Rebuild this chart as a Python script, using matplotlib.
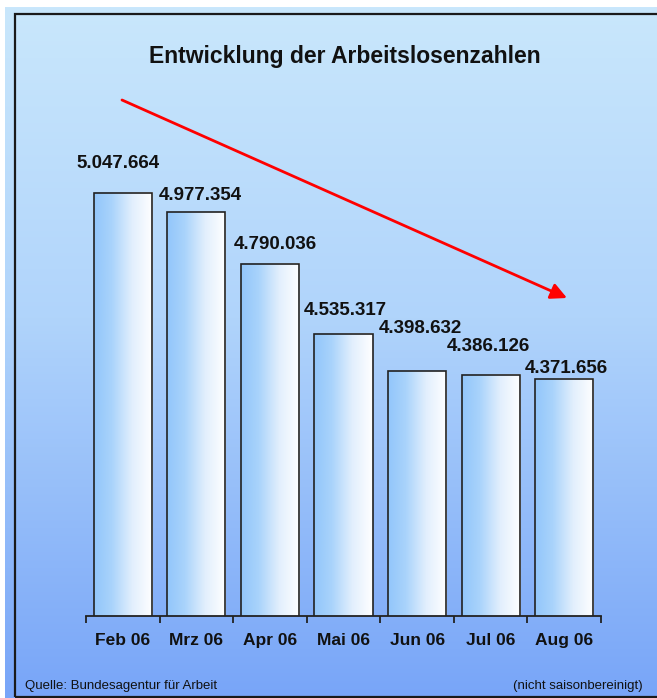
import numpy as np
import matplotlib
matplotlib.use('Agg')
import matplotlib.pyplot as plt
from matplotlib.colors import LinearSegmentedColormap
from matplotlib.patches import Rectangle

# Daten
monate = ['Feb 06', 'Mrz 06', 'Apr 06', 'Mai 06', 'Jun 06', 'Jul 06', 'Aug 06']
arbeitslose = [5047664, 4977354, 4790036, 4535317, 4398632, 4386126, 4371656]
beschriftung = ['5.047.664', '4.977.354', '4.790.036', '4.535.317',
                '4.398.632', '4.386.126', '4.371.656']

# Lage der Zahlen über den Balken (Pixel, wie im Original von Hand verschoben)
label_dx = [-5, 4, 5, 2, 3, -2, 2]
label_dy = [29, 17, 19, 23, 43, 28, 10]

plt.rcParams['font.family'] = ['Liberation Sans', 'DejaVu Sans']

W, H = 657, 698
fig = plt.figure(figsize=(W / 100, H / 100), dpi=100)

# Hintergrund mit Verlauf
bg = fig.add_axes([5 / W, 0, 1 - 5 / W, 1 - 7 / H], zorder=-10)
bg_cmap = LinearSegmentedColormap.from_list(
    'bg', [(0.0, '#c9e7fc'), (0.45, '#b0d4fb'), (1.0, '#78a5f8')])
bg.imshow(np.linspace(0, 1, 256).reshape(-1, 1), cmap=bg_cmap, aspect='auto',
          extent=(0, 1, 0, 1), origin='upper')
bg.set_axis_off()

# Rahmen
fig.patches.append(Rectangle((15 / W, 1.5 / H), 1.2, 1 - 15.5 / H, transform=fig.transFigure,
                             fill=False, edgecolor='#1a1a1a', linewidth=1.6, zorder=-5))

# Diagramm
ax = fig.add_axes([86 / W, (H - 616) / H, (601 - 86) / W, (616 - 100) / H])
ax.patch.set_visible(False)
x = np.arange(len(monate))
ymin, ymax = 3510000, 5385000
bars = ax.bar(x, arbeitslose, width=0.79, facecolor='none', edgecolor='#222222',
              linewidth=1.2, zorder=3)

bar_cmap = LinearSegmentedColormap.from_list(
    'bar', [(0.0, '#92c6fb'), (0.3, '#a9d3fb'), (0.65, '#e2effd'), (1.0, '#ffffff')])
grad = np.linspace(0, 1, 256).reshape(1, -1)
for b in bars:
    ax.imshow(grad, cmap=bar_cmap, aspect='auto', zorder=2,
              extent=(b.get_x(), b.get_x() + b.get_width(), ymin, b.get_height()))

ax.set_xlim(-0.5, len(monate) - 0.5)
ax.set_ylim(ymin, ymax)

for i, (b, txt) in enumerate(zip(bars, beschriftung)):
    ax.annotate(txt, (b.get_x() + b.get_width() / 2, b.get_height()),
                xytext=(label_dx[i] * 0.72, label_dy[i] * 0.72), textcoords='offset points',
                ha='center', va='center', fontsize=13.5, fontweight='bold', color='#111111')

for s in ['left', 'right', 'top']:
    ax.spines[s].set_visible(False)
ax.spines['bottom'].set_linewidth(1.3)
ax.spines['bottom'].set_color('#222222')
ax.spines['bottom'].set_zorder(4)
ax.set_yticks([])
ax.set_xticks(x)
ax.set_xticklabels(monate, fontsize=12.5, fontweight='bold', color='#111111')
ax.tick_params(axis='x', which='major', length=0, pad=12)
ax.set_xticks(np.arange(len(monate) + 1) - 0.5, minor=True)
ax.tick_params(axis='x', which='minor', length=5, width=1.3, color='#222222')

# Titel
fig.text(345 / W, 1 - 57 / H, 'Entwicklung der Arbeitslosenzahlen', ha='center', va='center',
         fontsize=16.5, fontweight='bold', color='#111111')

# Pfeil
ax.annotate('', xy=(567 / W, 1 - 298 / H), xytext=(122 / W, 1 - 100 / H),
            xycoords='figure fraction', textcoords='figure fraction',
            arrowprops=dict(arrowstyle='-|>', color='#ff0000', lw=2.0, mutation_scale=24,
                            shrinkA=0, shrinkB=0))

# Fußnoten
fig.text(25 / W, 1 - 686 / H, 'Quelle: Bundesagentur für Arbeit', ha='left', va='center',
         fontsize=9.5, color='#111111')
fig.text(643 / W, 1 - 686 / H, '(nicht saisonbereinigt)', ha='right', va='center',
         fontsize=9.5, color='#111111')

fig.savefig('out.png', dpi=100)
